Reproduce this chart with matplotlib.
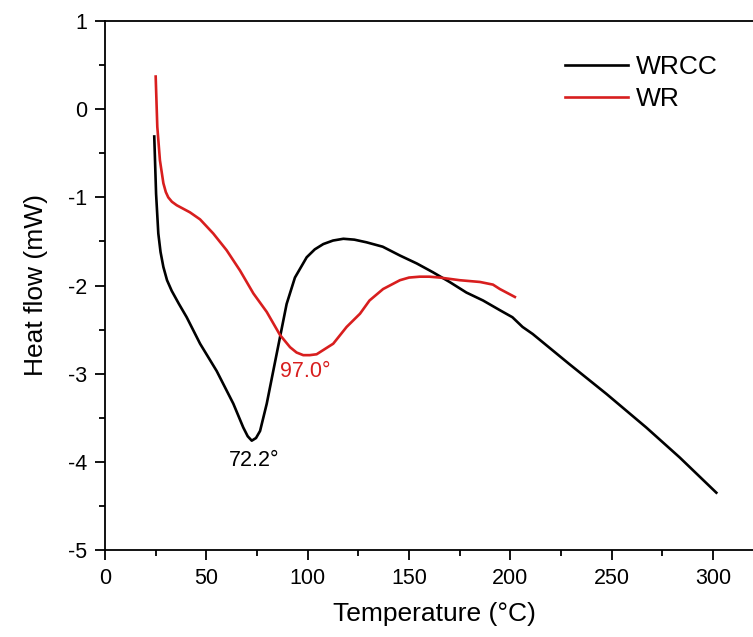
import numpy as np
import matplotlib.pyplot as plt
from matplotlib.ticker import MultipleLocator

plt.rcParams['font.family'] = ['Liberation Sans', 'DejaVu Sans']
plt.rcParams['axes.unicode_minus'] = False

# WRCC curve (black)
wrcc_t = [24.3, 25.2, 26.3, 27.4, 28.8, 30.6, 32.9, 36.5, 40.3, 46.9, 55.1, 63.3, 68.2,
          70.4, 72.4, 74.5, 76.5, 79.8, 83.0, 86.3, 89.6, 93.7, 99.5, 103.5, 107.7,
          112.5, 117.6, 123.0, 129.0, 137.0, 145.5, 153.8, 161.8, 170.0, 178.3, 186.5,
          194.8, 201.0, 206.0, 211.0, 229.0, 247.4, 267.0, 283.5, 301.6]
wrcc_hf = [-0.31, -0.96, -1.41, -1.62, -1.79, -1.94, -2.06, -2.21, -2.36, -2.66, -2.97,
           -3.34, -3.61, -3.71, -3.76, -3.73, -3.65, -3.34, -2.97, -2.59, -2.21, -1.91,
           -1.68, -1.59, -1.53, -1.49, -1.47, -1.48, -1.51, -1.56, -1.66, -1.75, -1.85,
           -1.96, -2.08, -2.17, -2.28, -2.36, -2.47, -2.55, -2.89, -3.23, -3.61, -3.95,
           -4.35]

# WR curve (red)
wr_t = [25.0, 25.8, 27.1, 28.8, 30.0, 31.2, 33.0, 35.4, 41.9, 46.9, 53.4, 60.0, 66.6,
        73.2, 79.8, 86.3, 91.3, 94.5, 97.8, 101.0, 104.4, 112.6, 119.2, 125.8, 130.5,
        137.2, 145.5, 150.0, 155.3, 160.0, 165.2, 175.0, 185.0, 191.4, 194.8, 202.2]
wr_hf = [0.37, -0.20, -0.58, -0.84, -0.94, -1.00, -1.05, -1.09, -1.17, -1.25, -1.41,
         -1.60, -1.83, -2.09, -2.30, -2.56, -2.70, -2.76, -2.79, -2.79, -2.78, -2.66,
         -2.47, -2.32, -2.17, -2.04, -1.94, -1.91, -1.90, -1.90, -1.91, -1.94, -1.96,
         -1.99, -2.04, -2.13]

red = '#d81e1e'

fig = plt.figure(figsize=(7.53, 6.37), dpi=100)
ax = fig.add_axes([105 / 753, 87 / 637, 325 * 2.027 / 753, 529 / 637])

ax.plot(wrcc_t, wrcc_hf, color='black', linewidth=1.9, label='WRCC')
ax.plot(wr_t, wr_hf, color=red, linewidth=1.9, label='WR')

ax.text(73.5, -3.99, '72.2°', fontsize=15.5, color='black', ha='center', va='center')
ax.text(99, -2.97, '97.0°', fontsize=15.5, color=red, ha='center', va='center')

ax.set_xlim(0, 325)
ax.set_ylim(-5, 1)
ax.xaxis.set_major_locator(MultipleLocator(50))
ax.xaxis.set_minor_locator(MultipleLocator(25))
ax.yaxis.set_major_locator(MultipleLocator(1))
ax.yaxis.set_minor_locator(MultipleLocator(0.5))
ax.tick_params(which='major', direction='out', length=7, width=1.3, labelsize=15.5, pad=6)
ax.tick_params(which='minor', direction='out', length=4, width=1.3)
for s in ax.spines.values():
    s.set_linewidth(1.3)

ax.set_xlabel('Temperature (°C)', fontsize=19, labelpad=9)
ax.set_ylabel('Heat flow (mW)', fontsize=19, labelpad=14)

fig.legend(loc='upper left', bbox_to_anchor=(565 / 753, 1 - 55 / 637), frameon=False,
           fontsize=19, handlelength=2.4, handletextpad=0.3, labelspacing=0.3,
           borderpad=0, borderaxespad=0)

fig.savefig('out.png', dpi=100)
